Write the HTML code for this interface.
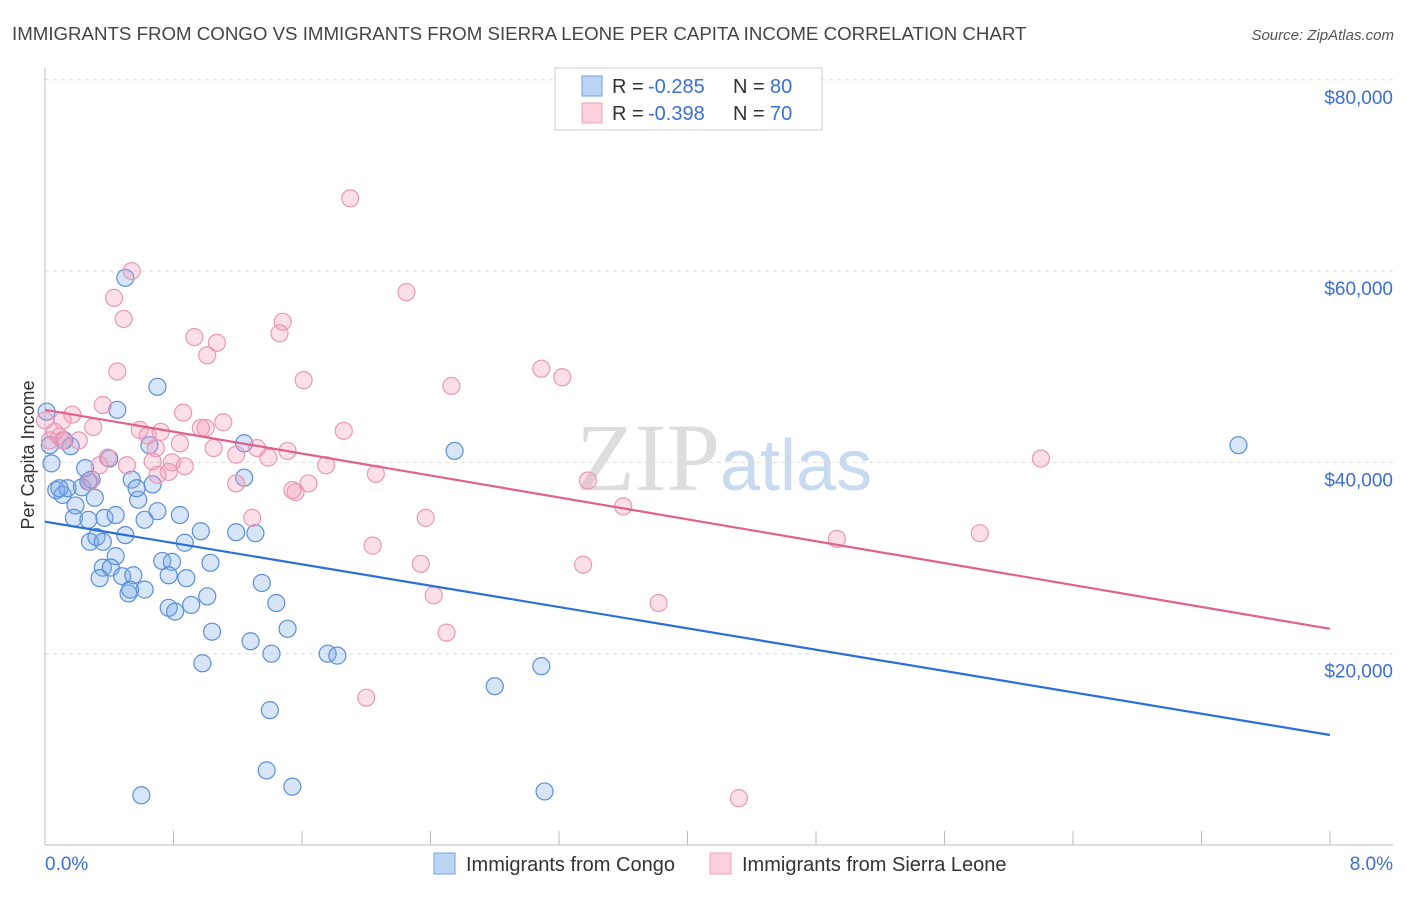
<!DOCTYPE html>
<html><head><meta charset="utf-8"><style>
body{margin:0;background:#fff;font-family:"Liberation Sans",sans-serif}
</style></head><body>
<svg width="1406" height="892" xmlns="http://www.w3.org/2000/svg" font-family="Liberation Sans, sans-serif">
<text x="12" y="40" font-size="18.7" fill="#444">IMMIGRANTS FROM CONGO VS IMMIGRANTS FROM SIERRA LEONE PER CAPITA INCOME CORRELATION CHART</text>
<text x="1394" y="40" font-size="15" fill="#555" font-style="italic" text-anchor="end">Source: ZipAtlas.com</text>
<text x="720" y="490" font-size="96" font-family="Liberation Serif, serif" fill="#ddd" text-anchor="end">ZIP</text>
<text x="720" y="490" font-size="72" fill="#c8daf0">atlas</text>
<g id="grid"></g><g id="axes"></g><g id="marks"></g>
<text x="0" y="0" font-size="18" fill="#333" transform="translate(34,455) rotate(-90)" text-anchor="middle">Per Capita Income</text>
<g>
<rect x="555" y="68" width="267" height="62" fill="#fff" stroke="#ccc"/>
<rect x="582" y="76" width="20" height="20" fill="#bcd5f5" stroke="#6f9fe0"/>
<rect x="582" y="103" width="20" height="20" fill="#fcd0dc" stroke="#eda0b8"/>
<text x="612" y="93" font-size="20" fill="#333">R =</text>
<text x="648" y="93" font-size="20" fill="#3b6fd4">-0.285</text>
<text x="733" y="93" font-size="20" fill="#333">N =</text>
<text x="770" y="93" font-size="20" fill="#3b6fd4">80</text>
<text x="612" y="120" font-size="20" fill="#333">R =</text>
<text x="648" y="120" font-size="20" fill="#3b6fd4">-0.398</text>
<text x="733" y="120" font-size="20" fill="#333">N =</text>
<text x="770" y="120" font-size="20" fill="#3b6fd4">70</text>
</g>
<g>
<rect x="434" y="853" width="21" height="21" fill="#bcd5f5" stroke="#6f9fe0"/>
<text x="466" y="871" font-size="20" fill="#333">Immigrants from Congo</text>
<rect x="710" y="853" width="21" height="21" fill="#fcd0dc" stroke="#eda0b8"/>
<text x="742" y="871" font-size="20" fill="#333">Immigrants from Sierra Leone</text>
</g>
</svg>
<script>
const yTicks=[20000,40000,60000,80000];
const yTickLabels=["$20,000","$40,000","$60,000","$80,000"];
const xTickLabels=["0.0%","8.0%"];
const congoX=[0.01,0.04,0.03,0.07,0.11,0.14,0.16,0.19,0.23,0.25,0.27,0.29,0.31,0.18,0.27,0.37,0.44,0.28,0.32,0.50,0.44,0.36,0.41,0.34,0.48,0.55,0.52,0.62,0.45,0.50,0.40,0.54,0.58,0.57,0.67,0.65,0.70,0.62,0.70,0.73,0.79,0.84,0.87,0.97,0.77,0.88,1.03,0.77,0.81,0.91,1.01,1.04,0.98,0.60,1.19,1.31,1.24,1.24,1.35,1.44,1.28,1.41,1.51,1.40,1.38,1.54,1.76,1.82,2.55,2.80,3.09,3.11,7.43,0.12,0.36,0.53,0.09];
const congoY=[45.3,39.9,41.8,37.1,36.6,37.3,41.7,35.5,37.4,39.4,38.0,38.2,36.3,34.2,34.0,34.2,34.5,31.7,32.2,32.4,30.2,29.0,29.0,27.9,28.1,28.2,26.3,26.7,45.5,59.3,40.4,38.2,36.1,37.3,37.7,41.8,47.9,34.0,34.9,29.7,29.6,34.5,31.6,32.8,28.2,27.9,29.5,24.8,24.4,25.1,26.0,22.3,19.0,5.2,32.7,32.6,42.0,38.4,27.4,25.3,21.3,20.0,22.6,14.1,7.8,6.1,20.0,19.8,41.2,16.6,18.7,5.6,41.8,42.3,31.7,26.7,37.3];
const sierraX=[0.00,0.03,0.06,0.09,0.11,0.17,0.21,0.28,0.30,0.34,0.36,0.39,0.43,0.45,0.49,0.51,0.54,0.59,0.64,0.67,0.69,0.70,0.72,0.77,0.79,0.84,0.87,0.86,0.93,0.97,1.00,1.01,1.05,1.07,1.11,1.19,1.19,1.29,1.32,1.39,1.46,1.48,1.51,1.54,1.56,1.61,1.64,1.75,1.86,1.90,2.00,2.04,2.06,2.25,2.34,2.37,2.42,2.50,2.53,3.09,3.22,3.38,3.35,3.60,3.82,4.32,4.93,5.82,6.20,0.11];
const sierraY=[44.4,42.3,43.2,42.7,44.4,45.0,42.3,38.0,43.7,39.7,46.0,40.5,57.2,49.5,55.0,39.7,60.0,43.4,42.8,40.1,41.5,38.7,43.2,39.0,40.0,42.0,39.6,45.2,53.1,43.6,43.6,51.2,41.5,52.5,44.2,40.8,37.8,34.2,41.5,40.5,53.5,54.7,41.2,37.1,36.9,48.6,37.8,39.7,43.3,67.6,15.4,31.3,38.8,57.8,29.4,34.2,26.1,22.2,48.0,49.8,48.9,38.1,29.3,35.4,25.3,4.9,32.0,32.6,40.4,42.3];
const congoTrend=[33.8,11.5];
const sierraTrend=[45.5,22.6];
const NS="http://www.w3.org/2000/svg";
const X0=45,X1=1330,Y0=845;
const sx=v=>X0+(v/8)*(X1-X0);
const sy=v=>Y0-(v/20000)*191.3;
function mk(tag,attrs,parent){const e=document.createElementNS(NS,tag);for(const k in attrs)e.setAttribute(k,attrs[k]);document.getElementById(parent).appendChild(e);return e;}
yTicks.forEach((t,i)=>{
 const g=mk('line',{x1:X0,x2:1393,y1:sy(t),y2:sy(t),stroke:'#ddd','stroke-dasharray':'4,4'},'grid');
 
 
 const l=mk('text',{x:1393,y:sy(t)+24,'font-size':19,fill:'#3b6fd4','text-anchor':'end'},'axes');
 l.textContent=yTickLabels[i];
 
 
});
const ya=mk('line',{x1:X0,x2:X0,y1:68,y2:Y0,stroke:'#bbb'},'axes');


const xa=mk('line',{x1:X0,x2:1393,y1:Y0,y2:Y0,stroke:'#bbb'},'axes');


for(let i=1;i<=10;i++){const v=i*0.8;const t=mk('line',{x1:sx(v),x2:sx(v),y1:Y0-14,y2:Y0,stroke:'#bbb'},'axes');
 
 }
const xl0=mk('text',{x:45,y:870,'font-size':19,fill:'#3b6fd4'},'axes');xl0.textContent=xTickLabels[0];


const xl1=mk('text',{x:1393,y:870,'font-size':19,fill:'#3b6fd4','text-anchor':'end'},'axes');xl1.textContent=xTickLabels[1];


function pts(xs,ys,fill,stroke,name){xs.forEach((x,i)=>{const c=mk('circle',{cx:sx(x),cy:sy(ys[i]*1000),r:8.5,fill:fill,stroke:stroke,'stroke-width':1.2},'marks');
 
 });}
pts(congoX,congoY,'rgba(120,170,235,0.3)','#5a8fd8','congo-point');
pts(sierraX,sierraY,'rgba(245,150,180,0.3)','#ea98b4','sierra-leone-point');
const l1=mk('line',{x1:sx(0),y1:sy(congoTrend[0]*1000),x2:sx(8),y2:sy(congoTrend[1]*1000),stroke:'#2a6fd6','stroke-width':2.2},'marks');


const l2=mk('line',{x1:sx(0),y1:sy(sierraTrend[0]*1000),x2:sx(8),y2:sy(sierraTrend[1]*1000),stroke:'#e0608e','stroke-width':2.2},'marks');


</script>
</body></html>
